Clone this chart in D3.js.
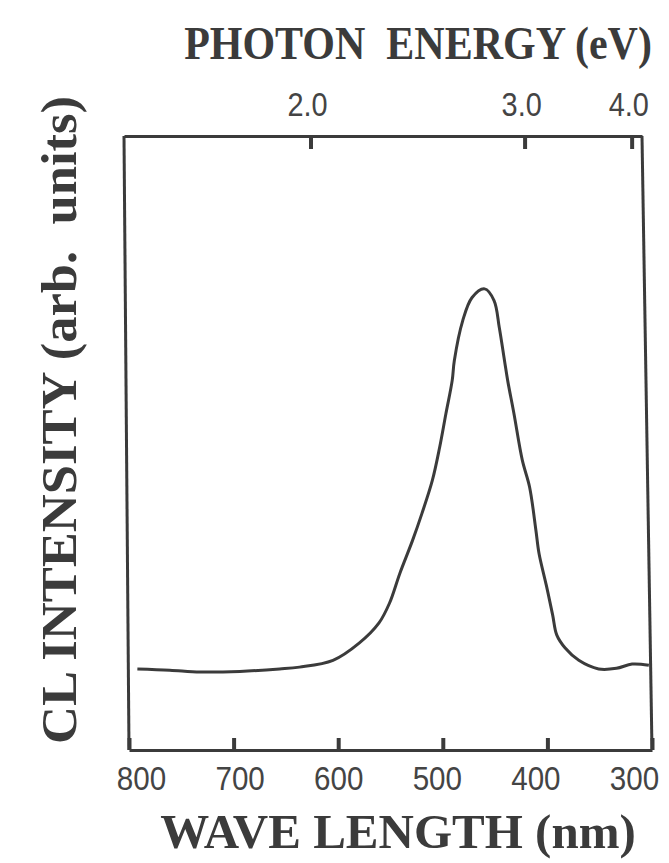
<!DOCTYPE html>
<html>
<head>
<meta charset="utf-8">
<script src="https://cdn.jsdelivr.net/npm/d3@7"></script>
<style>
  html, body { margin: 0; padding: 0; background: #ffffff; }
  svg { display: block; }
  text { white-space: pre; }
</style>
</head>
<body>
<div id="chart"></div>
<script>
// Cathodoluminescence spectrum: wavelength (nm) vs. intensity (arb. units)
const wavelengths = [792, 761, 732, 694, 656, 637, 605, 580, 561, 551, 541, 529, 520, 510, 503, 497,
                     491, 489, 481, 472, 460, 451, 446, 441, 438, 432, 424, 417, 411, 408, 401, 395,
                     391, 383, 370, 351, 334, 319, 303];
const intensity   = [13.2, 13.0, 12.7, 12.8, 13.2, 13.5, 14.6, 17.4, 20.7, 23.9, 28.8, 34.1, 38.5, 43.9, 49.3, 54.8,
                     60.2, 63.4, 69.9, 73.7, 75.1, 73.2, 68.8, 63.4, 60.2, 54.8, 47.2, 42.8, 35.8, 32.0, 26.8, 22.0,
                     18.7, 16.6, 14.6, 13.2, 13.3, 14.0, 13.8];

// Axis ticks
const wavelengthTicks = [800, 700, 600, 500, 400, 300];
const energyTicks = [2.0, 3.0, 4.0];   // eV, converted with lambda = 1240 / E

(function draw() {
  const W = 669, H = 863;
  const frameTop = 136, frameBottom = 750;
  const ink = "#3b3b3b";
  const labelInk = "#444";
  const sans = "'Liberation Sans', Arial, sans-serif";
  const serif = "'Liberation Serif', 'Times New Roman', serif";

  const svg = d3.select("#chart").append("svg")
    .attr("width", W).attr("height", H);

  // Bottom (wavelength) and top (energy) scales; the label row sits slightly tighter
  const x = d3.scaleLinear().domain([800, 300]).range([129, 652]);
  const xLabel = d3.scaleLinear().domain([800, 300]).range([141, 634]);
  const xTop = d3.scaleLinear().domain([800, 300]).range([124, 642]);
  const y = d3.scaleLinear().domain([0, 100]).range([frameBottom, frameTop]);

  // Bottom axis: line and inward ticks
  const axB = svg.append("g")
    .attr("transform", `translate(0,${frameBottom})`)
    .call(d3.axisBottom(x).tickValues(wavelengthTicks).tickFormat("")
          .tickSizeInner(-12).tickSizeOuter(0));
  axB.select(".domain").attr("stroke", ink).attr("stroke-width", 3);
  axB.selectAll(".tick line").attr("stroke", ink).attr("stroke-width", 4);

  // Bottom axis labels
  const axBL = svg.append("g")
    .attr("transform", `translate(0,${frameBottom})`)
    .call(d3.axisBottom(xLabel).tickValues(wavelengthTicks).tickFormat(d3.format("d"))
          .tickSize(0).tickPadding(16));
  axBL.select(".domain").remove();
  axBL.selectAll(".tick text")
    .attr("fill", labelInk)
    .attr("font-family", sans)
    .attr("font-size", 34)
    .attr("transform", "scale(0.87,1)");

  // Top axis
  const axT = svg.append("g")
    .attr("transform", `translate(0,${frameTop})`)
    .call(d3.axisTop(xTop).tickValues(energyTicks.map(e => 1240 / e))
          .tickFormat(w => (1240 / w).toFixed(1))
          .tickSizeInner(-13).tickSizeOuter(0).tickPadding(20));
  axT.select(".domain").attr("stroke", ink).attr("stroke-width", 3);
  axT.selectAll(".tick line").attr("stroke", ink).attr("stroke-width", 4);
  axT.selectAll(".tick text")
    .attr("fill", labelInk)
    .attr("font-family", sans)
    .attr("font-size", 34)
    .attr("dx", -4)
    .attr("transform", "scale(0.85,1)");

  // Side borders of the frame
  svg.append("line")
    .attr("x1", xTop(800)).attr("y1", frameTop).attr("x2", x(800)).attr("y2", frameBottom)
    .attr("stroke", ink).attr("stroke-width", 3);
  svg.append("line")
    .attr("x1", xTop(300)).attr("y1", frameTop).attr("x2", x(300)).attr("y2", frameBottom)
    .attr("stroke", ink).attr("stroke-width", 3);

  // Spectrum curve
  const pts = wavelengths.map((w, i) => [w, intensity[i]]);
  svg.append("path")
    .datum(pts)
    .attr("fill", "none")
    .attr("stroke", ink)
    .attr("stroke-width", 3)
    .attr("stroke-linejoin", "round")
    .attr("d", d3.line().x(d => x(d[0])).y(d => y(d[1])).curve(d3.curveCatmullRom.alpha(0.5)));

  // Axis titles
  svg.append("text")
    .attr("transform", "translate(418,59) scale(1,1.08)")
    .attr("text-anchor", "middle")
    .attr("font-family", serif).attr("font-weight", "bold").attr("font-size", 42)
    .attr("fill", ink)
    .text("PHOTON  ENERGY (eV)");

  svg.append("text")
    .attr("x", 398).attr("y", 848)
    .attr("text-anchor", "middle")
    .attr("font-family", serif).attr("font-weight", "bold").attr("font-size", 49)
    .attr("fill", ink)
    .text("WAVE LENGTH (nm)");

  svg.append("text")
    .attr("transform", "translate(76,420) rotate(-90)")
    .attr("text-anchor", "middle")
    .attr("font-family", serif).attr("font-weight", "bold").attr("font-size", 50)
    .attr("textLength", 648).attr("lengthAdjust", "spacingAndGlyphs")
    .attr("fill", ink)
    .text("CL INTENSITY (arb.  units)");
})();
</script>
</body>
</html>
